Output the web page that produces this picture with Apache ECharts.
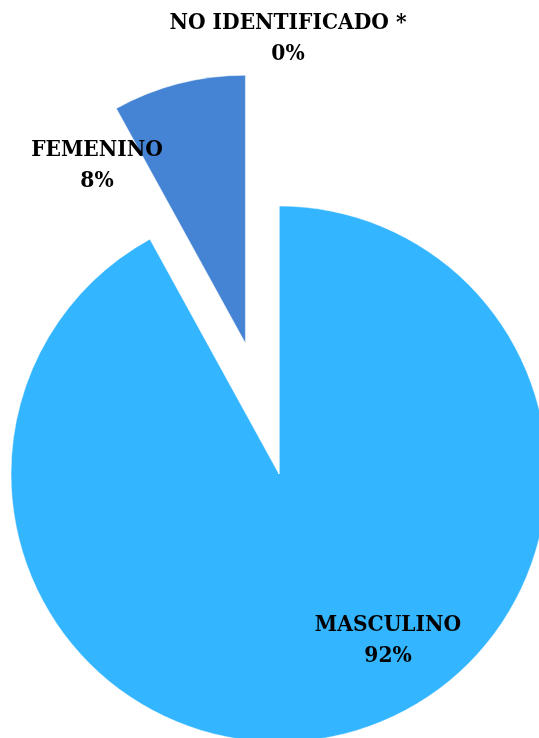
<!DOCTYPE html>
<html>
<head>
<meta charset="utf-8">
<script src="https://cdn.jsdelivr.net/npm/echarts@6/dist/echarts.min.js"></script>
<style>html,body{margin:0;padding:0;background:#fff}#c{width:539px;height:738px}</style>
</head>
<body>
<div id="c"></div>
<script>
const categories = ['MASCULINO', 'FEMENINO', 'NO IDENTIFICADO *'];
const values = [92, 8, 0];
const sliceColors = ['#33B5FF', '#4584D4', '#A5A5A5'];
const labelSpots = [[388, 641], [97, 166], [288, 39]];
const explodedIndex = 1;

const CX = 279, CY = 474, R = 268, OFFSET = 135;
const total = values.reduce((a, b) => a + b, 0);
// bisector angle of exploded slice (clockwise from top)
let before = 0;
for (let i = 0; i < explodedIndex; i++) before += values[i];
const midFrac = (before + values[explodedIndex] / 2) / total;
const midAng = midFrac * 2 * Math.PI;
const ex = CX + OFFSET * Math.sin(midAng);
const ey = CY - OFFSET * Math.cos(midAng);

const labelStyle = {
  show: true,
  formatter: p => p.name + '\n' + Math.round(p.percent) + '%',
  fontFamily: 'DejaVu Serif Condensed',
  fontWeight: 'bold',
  fontSize: 22.5,
  lineHeight: 31,
  color: '#000000',
  align: 'center'
};
const layoutFn = function (params) {
  const s = labelSpots[params.dataIndex];
  return {x: s[0], y: s[1], align: 'center', verticalAlign: 'middle'};
};

function makeData(showExploded) {
  return categories.map((c, i) => {
    const isEx = i === explodedIndex;
    const visible = showExploded ? isEx : !isEx;
    return {
      name: c,
      value: values[i],
      itemStyle: visible ? {color: sliceColors[i]} : {color: 'rgba(0,0,0,0)', borderWidth: 0},
      label: {show: visible}
    };
  });
}

const base = {
  type: 'pie',
  radius: R,
  startAngle: 90,
  clockwise: true,
  avoidLabelOverlap: false,
  minShowLabelAngle: 0,
  silent: true,
  itemStyle: {borderColor: '#ffffff', borderWidth: 0.5},
  emphasis: {disabled: true},
  label: labelStyle,
  labelLine: {show: false},
  labelLayout: layoutFn
};

const chart = echarts.init(document.getElementById('c'), null, {renderer: 'canvas'});
chart.setOption({
  animation: false,
  backgroundColor: '#ffffff',
  series: [
    Object.assign({}, base, {center: [CX, CY], data: makeData(false)}),
    Object.assign({}, base, {center: [ex, ey], data: makeData(true)})
  ]
});
</script>
</body>
</html>
